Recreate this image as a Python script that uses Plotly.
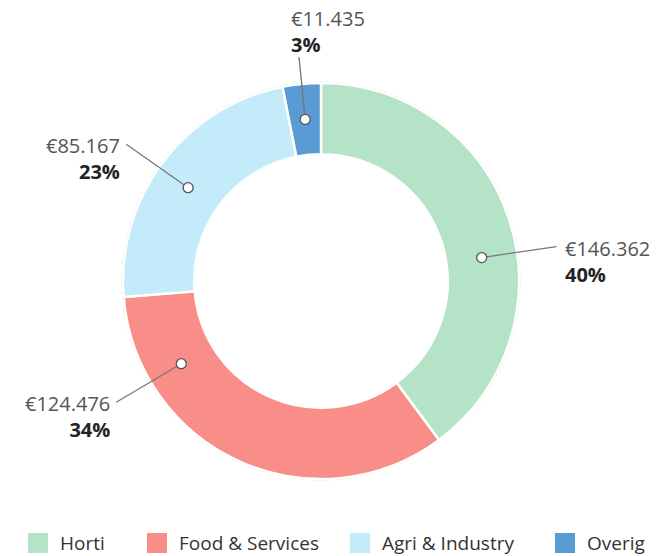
import math
import plotly.graph_objects as go

# data
labels = ["Horti", "Food & Services", "Agri & Industry", "Overig"]
values = [146362, 124476, 85167, 11435]
colors = ["#b4e3c7", "#f98e88", "#c3ebfa", "#5b9bd5"]

# where the leader line leaves each slice, relative to the slice middle (degrees)
angle_shift = [10, 35, -2, 0]
legend_left = [28, 147, 350, 555]

W, H = 660, 556
cx, cy, R = 321, 281, 198
hole = 0.64
FONT = "Open Sans"


def px(x):
    return x / W


def py(y):
    return 1 - y / H


def fmt_eur(v):
    return "€" + f"{v:,}".replace(",", ".")


fig = go.Figure()
fig.add_trace(go.Pie(
    labels=labels, values=values, hole=hole, sort=False, direction="clockwise",
    rotation=0, textinfo="none", hoverinfo="label+value+percent",
    marker=dict(colors=colors, line=dict(color="white", width=2.5)),
    domain=dict(x=[px(cx - R), px(cx + R)], y=[py(cy + R), py(cy - R)]),
    showlegend=False,
))

shapes = []
annotations = []

# faint outline round the ring
shapes.append(dict(type="circle", xref="paper", yref="paper",
                   x0=px(cx - R - 1), x1=px(cx + R + 1), y0=py(cy + R + 1), y1=py(cy - R - 1),
                   line=dict(color="#d9d9d9", width=1, dash="dot"), layer="below"))

total = sum(values)
cum = 0
r_mid = R * (1 + hole) / 2
for lab, v, shift in zip(labels, values, angle_shift):
    mid = (cum + v / 2) / total * 360
    cum += v
    a = math.radians(mid + shift)
    s, c = math.sin(a), math.cos(a)
    top = abs(c) > 0.95
    r_end = 225 if top else 238
    dx, dy = cx + r_mid * s, cy - r_mid * c
    ex, ey = cx + r_end * s, cy - r_end * c
    shapes.append(dict(type="line", xref="paper", yref="paper",
                       x0=px(dx), y0=py(dy), x1=px(ex), y1=py(ey),
                       line=dict(color="#777777", width=1.3)))
    shapes.append(dict(type="circle", xref="paper", yref="paper",
                       x0=px(dx - 5), x1=px(dx + 5), y0=py(dy + 5), y1=py(dy - 5),
                       fillcolor="white", line=dict(color="#555555", width=1.3)))
    pct = round(v / total * 100)
    text = f"<span style='color:#555555'>{fmt_eur(v)}</span><br><b>{pct}%</b>"
    if top:
        annotations.append(dict(x=px(ex - 10), y=py(ey + 3), xanchor="left", yanchor="bottom",
                                align="left", text=text))
    elif s > 0:
        annotations.append(dict(x=px(ex + 6), y=py(ey - 14), xanchor="left", yanchor="top",
                                align="left", text=text))
    else:
        annotations.append(dict(x=px(ex - 4), y=py(ey - 14), xanchor="right", yanchor="top",
                                align="right", text=text))

for a in annotations:
    a.update(xref="paper", yref="paper", showarrow=False,
             font=dict(family=FONT, size=20, color="#222222"))

# legend drawn by hand so the swatches can be large
for lab, col, lx in zip(labels, colors, legend_left):
    shapes.append(dict(type="rect", xref="paper", yref="paper",
                       x0=px(lx), x1=px(lx + 20), y0=py(553), y1=py(533),
                       fillcolor=col, line=dict(width=0)))
    annotations.append(dict(x=px(lx + 30), y=py(543), xref="paper", yref="paper",
                            xanchor="left", yanchor="middle", showarrow=False, text=lab,
                            font=dict(family=FONT, size=19, color="#333333")))

fig.update_layout(
    width=W, height=H,
    margin=dict(l=0, r=0, t=0, b=0),
    paper_bgcolor="white", plot_bgcolor="white",
    font=dict(family=FONT),
    shapes=shapes, annotations=annotations,
    showlegend=False,
)

# the page body keeps a default 8px margin; drop it so the figure fills the window
fig.write_html("out.html", config={"displayModeBar": False},
               post_script="document.body.style.margin='0';document.body.style.overflow='hidden';")
